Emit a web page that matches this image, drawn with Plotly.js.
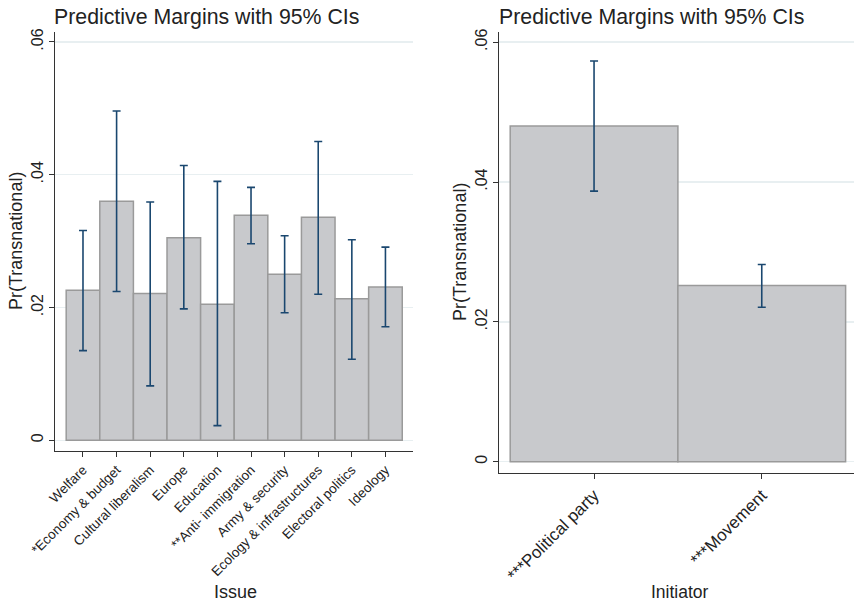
<!DOCTYPE html>
<html>
<head>
<meta charset="utf-8">
<script src="https://cdn.plot.ly/plotly-3.0.1.min.js"></script>
<style>html,body{margin:0;padding:0;background:#fff}#chart{width:854px;height:602px}</style>
</head>
<body>
<div id="chart"></div>
<script>
// Left panel: Issue
const issueLabels = ["Welfare", "*Economy & budget", "Cultural liberalism", "Europe", "Education",
  "**Anti- immigration", "Army & security", "Ecology & infrastructures", "Electoral politics", "Ideology"];
const issueMargin = [0.0226, 0.0360, 0.0221, 0.0305, 0.0205, 0.0339, 0.0250, 0.0336, 0.0213, 0.0231];
const issueUpper  = [0.0316, 0.0496, 0.0359, 0.0414, 0.0390, 0.0381, 0.0308, 0.0450, 0.0302, 0.0291];
const issueLower  = [0.0135, 0.0224, 0.0082, 0.0198, 0.0022, 0.0296, 0.0192, 0.0220, 0.0122, 0.0171];

// Right panel: Initiator
const initLabels = ["***Political party", "***Movement"];
const initMargin = [0.0480, 0.0252];
const initUpper  = [0.0573, 0.0282];
const initLower  = [0.0387, 0.0221];

const yTickVals = [0, 0.02, 0.04, 0.06];
const yTickText = ["0", ".02", ".04", ".06"];

const FONT = "Liberation Sans, Arial, sans-serif";
const barFill = "#c8c9cc";
const barLine = "#9a9a9a";
const ciColor = "#1a476f";
const gridColor = "#e8eff1";
const W = 854, H = 602;

function errs(m, up, lo) {
  return {
    type: "data", symmetric: false,
    array: m.map((v, i) => up[i] - v),
    arrayminus: m.map((v, i) => v - lo[i]),
    color: ciColor, thickness: 1.6, width: 4
  };
}

const traces = [
  { type: "bar", x: issueLabels, y: issueMargin, xaxis: "x", yaxis: "y",
    marker: { color: barFill, line: { color: barLine, width: 1.5 } },
    error_y: errs(issueMargin, issueUpper, issueLower), hoverinfo: "none", showlegend: false },
  { type: "bar", x: initLabels, y: initMargin, xaxis: "x2", yaxis: "y2",
    marker: { color: barFill, line: { color: barLine, width: 1.5 } },
    error_y: errs(initMargin, initUpper, initLower), hoverinfo: "none", showlegend: false }
];

function yax(domain, anchor) {
  return {
    domain: domain, anchor: anchor, range: [-0.00157, 0.0615],
    tickvals: yTickVals, ticktext: yTickText, tickangle: -90,
    ticks: "outside", ticklen: 5, tickcolor: "#333", tickwidth: 1,
    showline: true, linecolor: "#333", linewidth: 1,
    showgrid: true, gridcolor: gridColor, gridwidth: 1.5, zeroline: false,
    tickfont: { family: FONT, size: 16, color: "#222" }, automargin: false
  };
}
function xax(domain, anchor, range, fsize) {
  return {
    domain: domain, anchor: anchor, range: range, type: "category",
    tickangle: -45, ticks: "outside", ticklen: 5, tickcolor: "#333", tickwidth: 1,
    showline: true, linecolor: "#333", linewidth: 1, showgrid: false, zeroline: false,
    tickfont: { family: FONT, size: fsize, color: "#222" }, automargin: false
  };
}

const layout = {
  width: W, height: H,
  margin: { l: 0, r: 0, t: 0, b: 0 },
  paper_bgcolor: "#fff", plot_bgcolor: "#fff",
  bargap: 0, showlegend: false,
  xaxis: xax([55 / W, 413 / W], "y", [-0.833, 9.82], 13.5),
  yaxis: yax([1 - 450.7 / H, 1 - 32 / H], "x"),
  xaxis2: xax([499.3 / W, 1], "y2", [-0.565, 1.55], 17),
  yaxis2: yax([1 - 472.7 / H, 1 - 31.7 / H], "x2"),
  annotations: [
    { text: "Predictive Margins with 95% CIs", xref: "paper", yref: "paper", x: 52 / W, y: 1 - 16.7 / H,
      xanchor: "left", yanchor: "middle", showarrow: false, font: { family: FONT, size: 21.3, color: "#222" } },
    { text: "Predictive Margins with 95% CIs", xref: "paper", yref: "paper", x: 497 / W, y: 1 - 16.7 / H,
      xanchor: "left", yanchor: "middle", showarrow: false, font: { family: FONT, size: 21.3, color: "#222" } },
    { text: "Pr(Transnational)", xref: "paper", yref: "paper", x: 16 / W, y: 1 - 241 / H, textangle: -90,
      xanchor: "center", yanchor: "middle", showarrow: false, font: { family: FONT, size: 18, color: "#222" } },
    { text: "Pr(Transnational)", xref: "paper", yref: "paper", x: 460 / W, y: 1 - 252 / H, textangle: -90,
      xanchor: "center", yanchor: "middle", showarrow: false, font: { family: FONT, size: 18, color: "#222" } },
    { text: "Issue", xref: "paper", yref: "paper", x: 236 / W, y: 1 - 592 / H,
      xanchor: "center", yanchor: "middle", showarrow: false, font: { family: FONT, size: 18, color: "#222" } },
    { text: "Initiator", xref: "paper", yref: "paper", x: 680 / W, y: 1 - 592 / H,
      xanchor: "center", yanchor: "middle", showarrow: false, font: { family: FONT, size: 17.5, color: "#222" } }
  ]
};

Plotly.newPlot("chart", traces, layout, { staticPlot: true, displayModeBar: false });
</script>
</body>
</html>
